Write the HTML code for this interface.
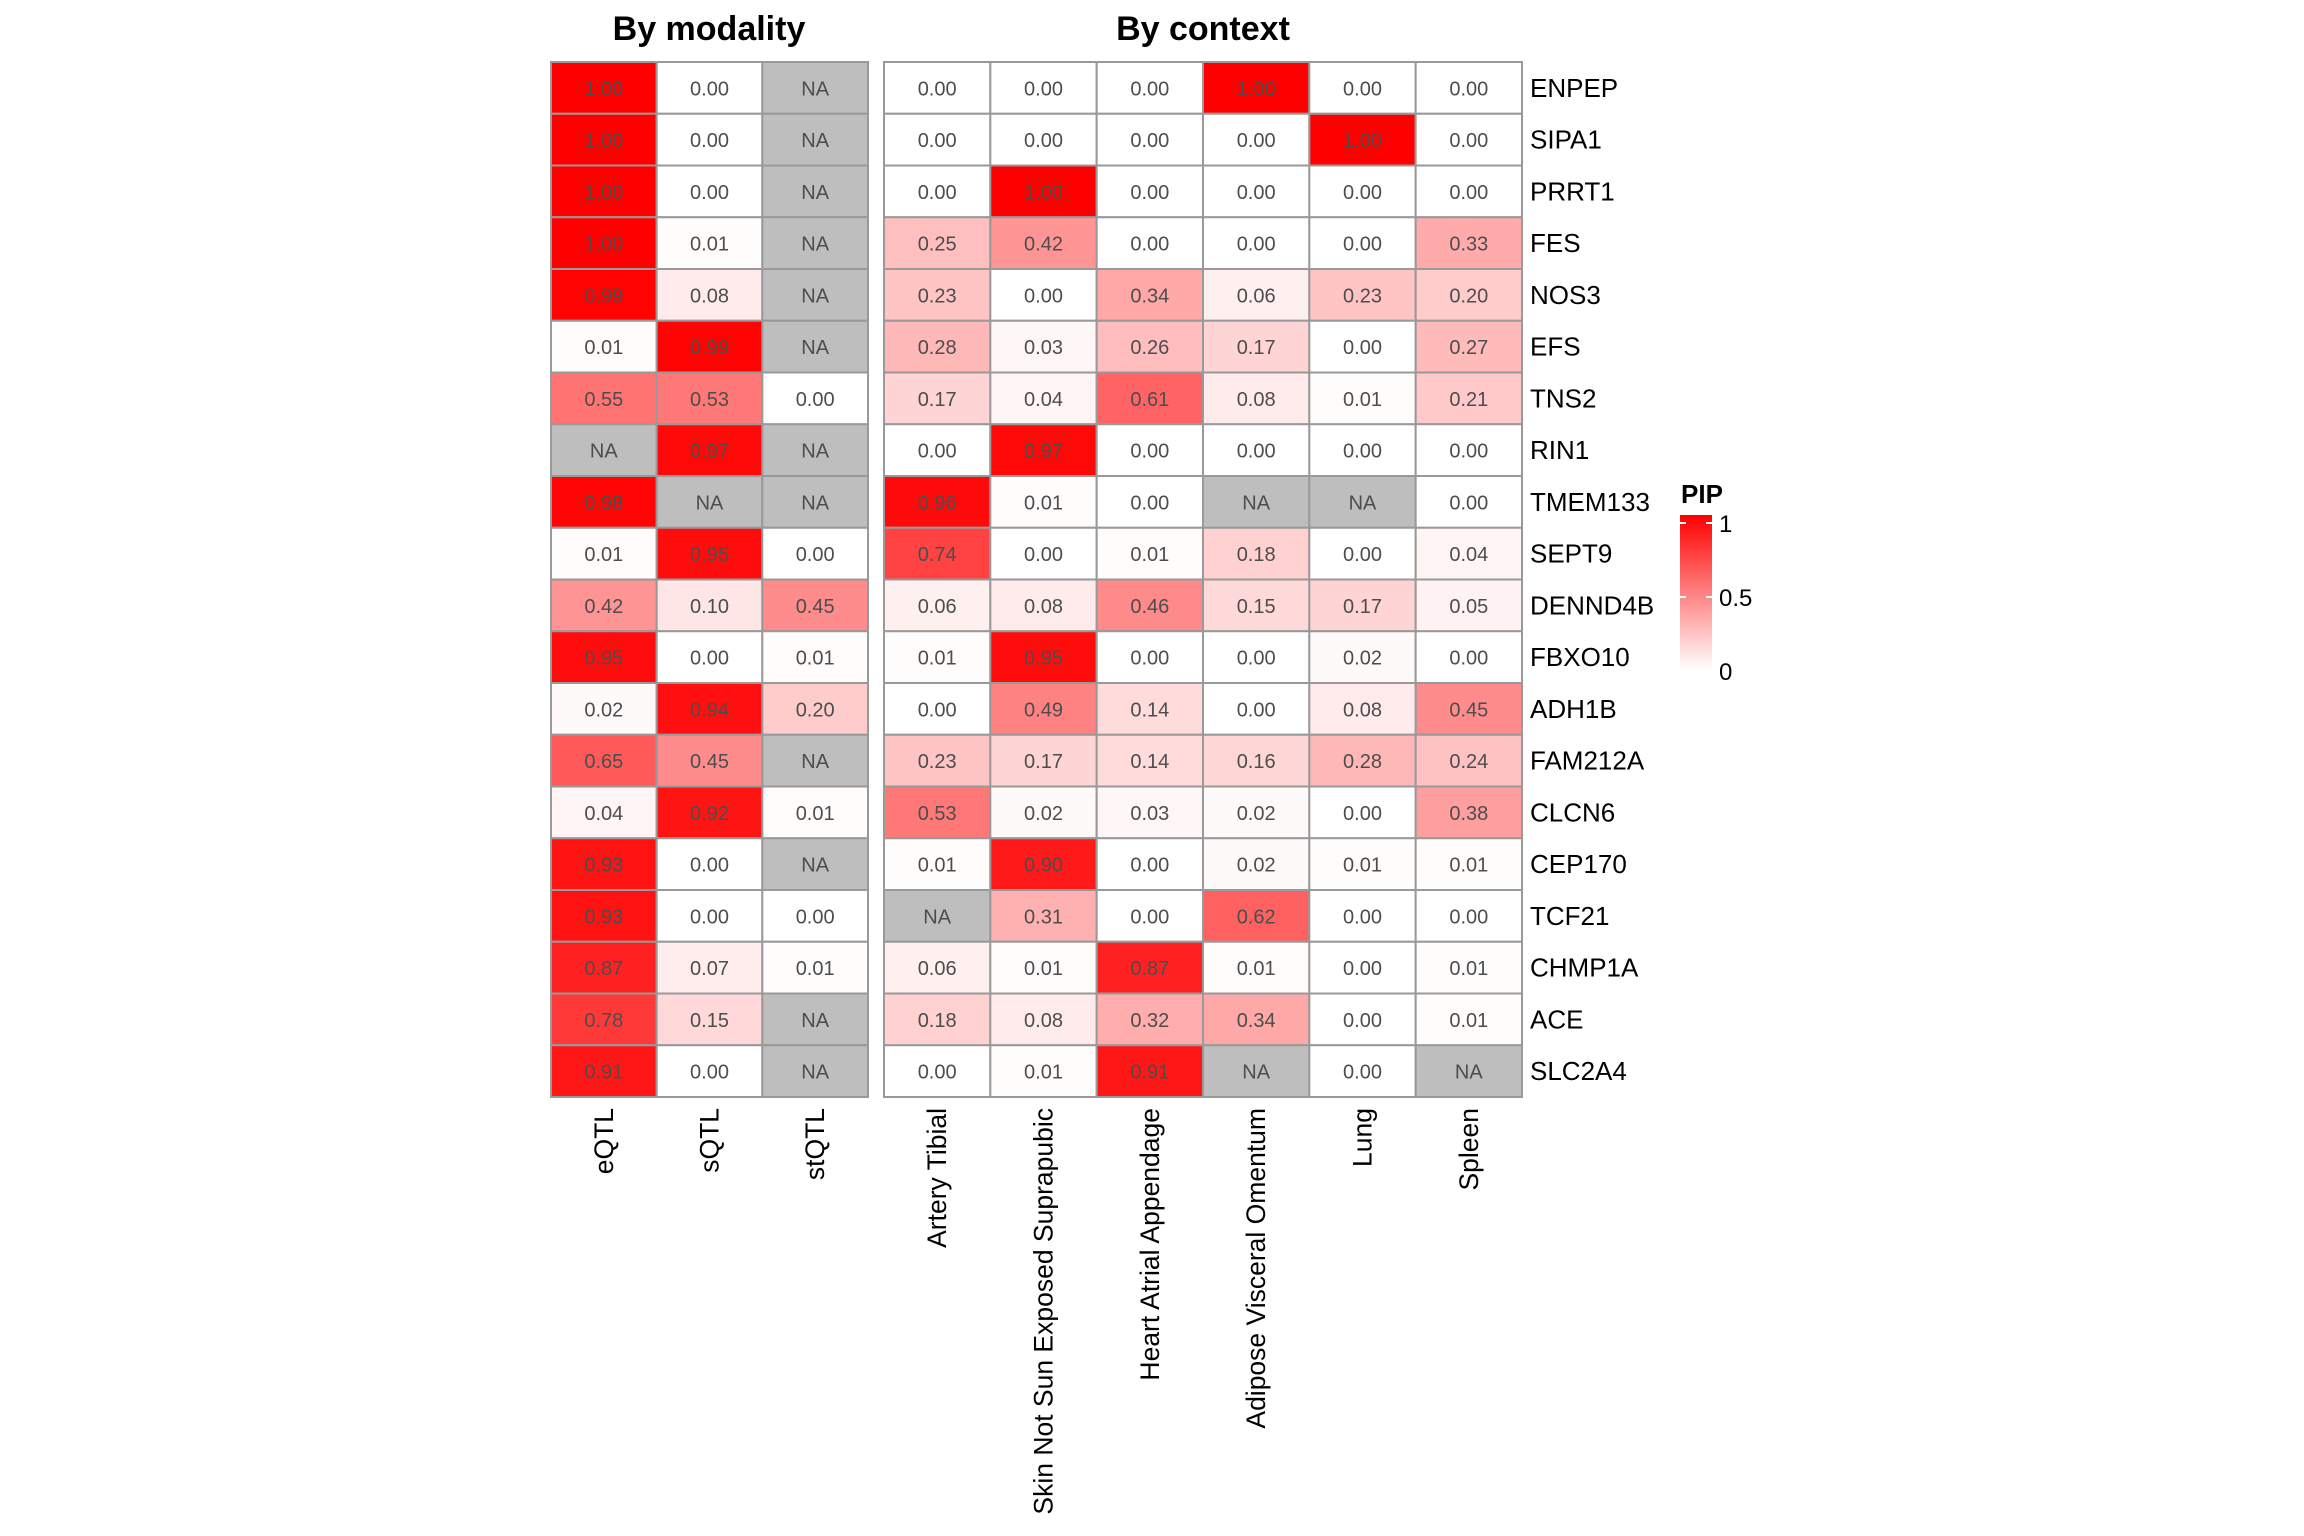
<!DOCTYPE html>
<html><head><meta charset="utf-8"><style>
html,body{margin:0;padding:0;background:#fff;}
svg{display:block;font-family:"Liberation Sans",Arial,sans-serif;}
</style></head><body>
<svg id="s" width="2304" height="1536" xmlns="http://www.w3.org/2000/svg">
<defs><linearGradient id="g" x1="0" y1="1" x2="0" y2="0">
<stop offset="0" stop-color="#ffffff"/><stop offset="1" stop-color="#ff0000"/></linearGradient></defs>
<rect width="2304" height="1536" fill="#fff"/>
<text x="709" y="40" font-size="34" font-weight="bold" text-anchor="middle">By modality</text>
<text x="1203" y="40" font-size="34" font-weight="bold" text-anchor="middle">By context</text>
<text x="1681" y="503" font-size="26" font-weight="bold">PIP</text>
<rect x="1680" y="515" width="32" height="155" fill="url(#g)"/>
<line x1="1680" y1="523" x2="1686" y2="523" stroke="#fff" stroke-width="2"/><line x1="1706" y1="523" x2="1712" y2="523" stroke="#fff" stroke-width="2"/>
<line x1="1680" y1="597" x2="1686" y2="597" stroke="#fff" stroke-width="2"/><line x1="1706" y1="597" x2="1712" y2="597" stroke="#fff" stroke-width="2"/>
<text x="1719" y="532" font-size="24">1</text>
<text x="1719" y="606" font-size="24">0.5</text>
<text x="1719" y="680" font-size="24">0</text>
<g id="cells"></g>
</svg>
<script>
(function(){
var genes=["ENPEP","SIPA1","PRRT1","FES","NOS3","EFS","TNS2","RIN1","TMEM133","SEPT9","DENND4B","FBXO10","ADH1B","FAM212A","CLCN6","CEP170","TCF21","CHMP1A","ACE","SLC2A4"];
var N=null;
var mod=[[1,0,N],[1,0,N],[1,0,N],[1,.01,N],[.99,.08,N],[.01,.99,N],[.55,.53,0],[N,.97,N],[.98,N,N],[.01,.95,0],[.42,.10,.45],[.95,0,.01],[.02,.94,.20],[.65,.45,N],[.04,.92,.01],[.93,0,N],[.93,0,0],[.87,.07,.01],[.78,.15,N],[.91,0,N]];
var ctx=[[0,0,0,1,0,0],[0,0,0,0,1,0],[0,1,0,0,0,0],[.25,.42,0,0,0,.33],[.23,0,.34,.06,.23,.20],[.28,.03,.26,.17,0,.27],[.17,.04,.61,.08,.01,.21],[0,.97,0,0,0,0],[.96,.01,0,N,N,0],[.74,0,.01,.18,0,.04],[.06,.08,.46,.15,.17,.05],[.01,.95,0,0,.02,0],[0,.49,.14,0,.08,.45],[.23,.17,.14,.16,.28,.24],[.53,.02,.03,.02,0,.38],[.01,.90,0,.02,.01,.01],[N,.31,0,.62,0,0],[.06,.01,.87,.01,0,.01],[.18,.08,.32,.34,0,.01],[0,.01,.91,N,0,N]];
var modL=["eQTL","sQTL","stQTL"],ctxL=["Artery Tibial","Skin Not Sun Exposed Suprapubic","Heart Atrial Appendage","Adipose Visceral Omentum","Lung","Spleen"];
var T0=62,B0=1097,rh=(B0-T0)/20,h="";
function col(v){if(v===null)return "#bebebe";var c=Math.round(255*(1-v));return "rgb(255,"+c+","+c+")";}
function panel(x0,x1,data,labels){var n=labels.length,cw=(x1-x0)/n;
 for(var r=0;r<20;r++)for(var c=0;c<n;c++){var v=data[r][c],x=x0+c*cw,y=T0+r*rh;
  h+='<rect x="'+x+'" y="'+y+'" width="'+cw+'" height="'+rh+'" fill="'+col(v)+'" stroke="#999" stroke-width="2"/>';
  h+='<text x="'+(x+cw/2)+'" y="'+(y+rh/2+7.5)+'" font-size="20" fill="#4d4d4d" text-anchor="middle">'+(v===null?"NA":v.toFixed(2))+'</text>';}
 for(var c=0;c<n;c++){var cx=x0+c*cw+cw/2+9;
  h+='<text transform="translate('+cx+',1108) rotate(-90)" font-size="26.5" text-anchor="end">'+labels[c]+'</text>';}}
panel(551,868,mod,modL);panel(884,1522,ctx,ctxL);
for(var r=0;r<20;r++)h+='<text x="1530" y="'+(T0+r*rh+rh/2+9)+'" font-size="26">'+genes[r]+'</text>';
document.getElementById("cells").innerHTML=h;
})();
</script>
</body></html>
